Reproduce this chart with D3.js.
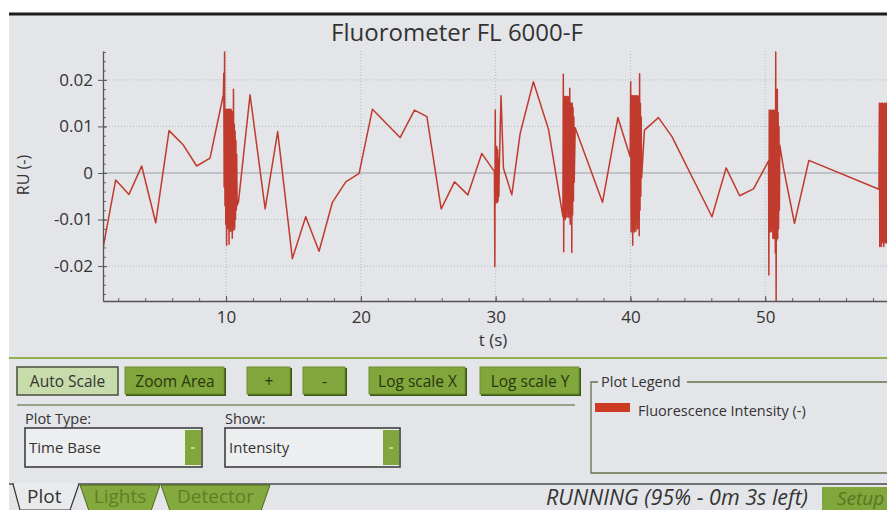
<!DOCTYPE html>
<html><head><meta charset="utf-8">
<script src="https://cdn.jsdelivr.net/npm/d3@7"></script>
<style>body{margin:0;background:#fff;} svg{display:block;font-family:"Open Sans",sans-serif;}</style>
</head><body><svg id="c" width="887" height="510"></svg>
<script>
const chartTitle = "Fluorometer FL 6000-F";
const xLabel = "t (s)";
const yLabel = "RU (-)";
const xTicks = [10, 20, 30, 40, 50];
const yTicks = [-0.02, -0.01, 0, 0.01, 0.02];
const yTickLabels = ["-0.02", "-0.01", "0", "0.01", "0.02"];
const seriesName = "Fluorescence Intensity (-)";

// time (s)
const timeS = [
 0.85,1.81,2.80,3.74,4.78,5.77,6.83,7.82,8.81,9.80,
 9.83,9.86,9.89,9.92,9.95,9.98,10.01,10.04,10.07,10.10,10.13,10.16,10.19,10.22,10.25,10.28,10.31,10.34,10.37,10.40,10.43,10.46,10.49,10.52,10.55,10.58,10.61,10.64,10.67,10.70,10.73,10.76,10.79,10.82,10.92,
 11.78,12.90,13.83,14.92,15.91,16.90,17.89,18.88,19.87,20.86,22.91,23.98,24.90,25.96,26.95,27.94,28.97,29.91,
 29.94,29.97,30.00,30.03,30.06,30.09,30.12,30.15,30.18,30.21,30.24,30.27,30.40,
 30.58,31.20,31.82,32.80,33.92,34.99,
 35.02,35.05,35.08,35.11,35.14,35.17,35.20,35.23,35.26,35.29,35.32,35.35,35.38,35.41,35.44,35.47,35.50,35.53,35.56,35.59,35.62,35.65,35.68,35.71,35.74,35.77,35.80,35.83,35.90,
 37.93,39.07,39.98,
 40.02,40.05,40.08,40.11,40.14,40.17,40.20,40.23,40.26,40.29,40.32,40.35,40.38,40.41,40.44,40.47,40.50,40.53,40.56,40.59,40.62,40.65,40.68,40.71,40.74,40.77,40.80,40.83,41.04,
 42.08,43.08,46.05,47.10,48.10,49.13,50.25,
 50.27,50.30,50.33,50.36,50.39,50.42,50.45,50.48,50.51,50.54,50.57,50.60,50.63,50.66,50.69,50.72,50.75,50.78,50.81,50.84,50.87,50.90,50.93,50.96,50.99,51.02,51.05,51.08,51.36,
 52.17,53.24,58.44,
 58.47,58.50,58.53,58.56,58.59,58.62,58.65,58.68,58.71,58.74,58.77,58.80,58.83,58.86,58.89,58.92,58.95,58.98,59.01,59.04,59.07,59.10
];
// relative units
const ru = [
 -0.0165,-0.0015,-0.0046,0.0015,-0.0107,0.0091,0.0060,0.0015,0.0032,0.0168,
 0.0214,-0.0030,0.0260,-0.0070,0.0125,-0.0110,0.0137,-0.0155,0.0137,-0.0080,0.0135,-0.0120,0.0137,-0.0153,0.0137,-0.0090,0.0136,-0.0125,0.0137,-0.0100,0.0132,-0.0140,0.0120,-0.0110,0.0180,-0.0123,0.0105,-0.0120,0.0090,-0.0100,0.0070,-0.0080,0.0040,-0.0070,-0.0062,
 0.0168,-0.0077,0.0089,-0.0184,-0.0094,-0.0168,-0.0063,-0.0019,-0.0001,0.0137,0.0076,0.0135,0.0121,-0.0077,-0.0019,-0.0047,0.0042,0.0003,
 -0.0201,0.0135,-0.0064,0.0058,-0.0062,0.0056,-0.0064,0.0050,-0.0060,0.0030,-0.0050,0.0010,0.0166,
 0.0010,-0.0047,0.0085,0.0196,0.0094,-0.0094,
 0.0212,-0.0169,0.0164,-0.0094,0.0164,-0.0100,0.0164,-0.0090,0.0160,-0.0095,0.0164,-0.0080,0.0162,-0.0095,0.0164,-0.0085,0.0182,-0.0110,0.0150,-0.0100,0.0150,-0.0171,0.0150,-0.0090,0.0140,-0.0060,0.0120,-0.0020,0.0097,
 -0.0063,0.0119,0.0035,
 0.0196,-0.0127,0.0166,-0.0110,0.0166,-0.0155,0.0166,-0.0120,0.0166,-0.0127,0.0164,-0.0110,0.0166,-0.0125,0.0166,-0.0100,0.0160,-0.0120,0.0166,-0.0090,0.0160,-0.0135,0.0213,-0.0080,0.0150,-0.0050,0.0120,-0.0010,0.0092,
 0.0119,0.0078,-0.0094,0.0011,-0.0049,-0.0034,0.0026,
 -0.0219,0.0135,-0.0126,0.0135,-0.0126,0.0135,-0.0120,0.0133,-0.0126,0.0135,-0.0140,0.0135,-0.0140,0.0130,-0.0140,0.0135,-0.0172,0.0260,-0.0285,0.0178,-0.0144,0.0180,-0.0140,0.0130,-0.0120,0.0100,-0.0080,0.0060,0.0010,
 -0.0108,0.0027,-0.0035,
 0.0150,-0.0158,0.0150,-0.0144,0.0148,-0.0158,0.0150,-0.0144,0.0150,-0.0150,0.0145,-0.0158,0.0150,-0.0144,0.0150,-0.0150,0.0148,-0.0150,0.0150,-0.0144,0.0150,-0.0150
];

const buttonLabels = ["Auto Scale", "Zoom Area", "+", "-", "Log scale X", "Log scale Y"];
const tabLabels = ["Plot", "Lights", "Detector"];
const plotTypeLabel = "Plot Type:", plotTypeValue = "Time Base";
const showLabel = "Show:", showValue = "Intensity";
const legendTitle = "Plot Legend";
const statusText = "RUNNING (95% - 0m 3s left)";
const setupLabel = "Setup";

const W = 887, H = 510;
const svg = d3.select("#c");
const GREEN = "#80a63c", TXT = "#333";

svg.append("rect").attr("width", W).attr("height", H).attr("fill", "#fff");
svg.append("rect").attr("x", 9).attr("y", 14).attr("width", W - 9).attr("height", H - 14).attr("fill", "#e3e5e9");
svg.append("line").attr("x1", 9).attr("x2", W).attr("y1", 14).attr("y2", 14).attr("stroke", "#1d1d1d").attr("stroke-width", 3);

// scales
const x = d3.scaleLinear().domain([0.87, 60]).range([103, 900]);
const y = d3.scaleLinear().domain([-0.0275, 0.0262]).range([301, 51]);
const px0 = 103, px1 = W, py0 = y(0.0262), py1 = y(-0.0275);

// grid
const grid = svg.append("g");
grid.selectAll(".gx").data(xTicks).join("line")
  .attr("x1", d => x(d)).attr("x2", d => x(d)).attr("y1", py0).attr("y2", py1)
  .attr("stroke", "#b4bac2").attr("stroke-dasharray", "1,2");
grid.selectAll(".gy").data(yTicks).join("line")
  .attr("x1", px0).attr("x2", px1).attr("y1", d => y(d)).attr("y2", d => y(d))
  .attr("stroke", d => d === 0 ? "#9aa1a9" : "#b4bac2")
  .attr("stroke-dasharray", d => d === 0 ? null : "1,2");

// title
svg.append("text").attr("x", 457).attr("y", 41).attr("text-anchor", "middle")
  .attr("font-size", 24).attr("fill", TXT).text(chartTitle);

// series
svg.append("clipPath").attr("id", "pc").append("rect")
  .attr("x", px0).attr("y", py0).attr("width", px1 - px0).attr("height", py1 - py0);
const pts = timeS.map((t, i) => ({ t, v: ru[i] }));
svg.append("path").datum(pts).attr("clip-path", "url(#pc)")
  .attr("fill", "none").attr("stroke", "#c03a2e").attr("stroke-width", 1.5)
  .attr("stroke-linejoin", "round")
  .attr("d", d3.line().x(d => x(d.t)).y(d => y(d.v)));

// axes
function styleAxis(g) {
  g.select(".domain").attr("stroke", "#555").attr("stroke-width", 1.3);
  g.selectAll(".tick line").attr("stroke", "#555");
  g.selectAll("text").attr("font-size", 17).attr("fill", TXT).attr("font-family", "Open Sans, sans-serif");
}
const minorY = d3.range(-26, 27, 2).map(v => v / 1000);
svg.append("g").attr("transform", `translate(${px0},0)`)
  .call(d3.axisRight(y).tickValues(minorY).tickSize(3).tickFormat("")).call(g => { g.select(".domain").remove(); g.selectAll("line").attr("stroke", "#666"); });
svg.append("g").attr("transform", `translate(${px0},0)`)
  .call(d3.axisRight(y).tickValues(yTicks).tickSize(4).tickFormat("")).call(g => { g.select(".domain").remove(); g.selectAll("line").attr("stroke", "#555"); });
svg.append("g").attr("transform", `translate(${px0},0)`)
  .call(d3.axisLeft(y).tickValues(yTicks).tickFormat((d, i) => yTickLabels[i]).tickSize(5).tickSizeOuter(0).tickPadding(5))
  .call(styleAxis);

const minorX = d3.range(2, 60, 2);
svg.append("g").attr("transform", `translate(0,${py1})`)
  .call(d3.axisBottom(x).tickValues(minorX).tickSize(-3).tickFormat("")).call(g => { g.select(".domain").remove(); g.selectAll("line").attr("stroke", "#666"); });
svg.append("g").attr("transform", `translate(0,${py1})`)
  .call(d3.axisBottom(x).tickValues(xTicks).tickSize(-5).tickSizeOuter(0).tickPadding(10))
  .call(styleAxis);

svg.append("text").attr("x", 493).attr("y", 346).attr("text-anchor", "middle")
  .attr("font-size", 17).attr("fill", TXT).text(xLabel);
svg.append("text").attr("transform", "translate(29,175) rotate(-90)").attr("text-anchor", "middle")
  .attr("font-size", 16).attr("fill", TXT).text(yLabel);

// ---- control panel ----
svg.append("line").attr("x1", 9).attr("x2", W).attr("y1", 358).attr("y2", 358).attr("stroke", "#93b04e").attr("stroke-width", 2);

const btnLayout = [[17, 118], [125, 225], [247, 291], [303, 346], [369, 466], [480, 580]];
buttonLabels.forEach((lab, i) => {
  const [a, b] = btnLayout[i];
  const g = svg.append("g");
  if (i === 0) {
    g.append("rect").attr("x", a).attr("y", 367).attr("width", b - a).attr("height", 28)
      .attr("fill", "#c8dbaa").attr("stroke", "#4f5847").attr("stroke-width", 1.6);
  } else {
    g.append("rect").attr("x", a + 1).attr("y", 368).attr("width", b - a).attr("height", 28).attr("fill", "#3d5516");
    g.append("rect").attr("x", a).attr("y", 367).attr("width", b - a - 1).attr("height", 27)
      .attr("fill", GREEN).attr("stroke", "#6f9130").attr("stroke-width", 1);
  }
  g.append("text").attr("x", (a + b) / 2).attr("y", 387).attr("text-anchor", "middle")
    .attr("font-size", 15.5).attr("fill", i === 0 ? "#333" : "#2a360f").text(lab);
});
svg.append("line").attr("x1", 17).attr("x2", 575).attr("y1", 405).attr("y2", 405).attr("stroke", "#7f8a68").attr("stroke-width", 1.4);

// dropdowns
[[plotTypeLabel, plotTypeValue, 25, 202], [showLabel, showValue, 225, 400]].forEach(([lab, val, a, b]) => {
  svg.append("text").attr("x", a).attr("y", 424).attr("font-size", 14.5).attr("fill", TXT).text(lab);
  svg.append("rect").attr("x", a).attr("y", 428).attr("width", b - a).attr("height", 39)
    .attr("fill", "#eceef0").attr("stroke", "#3f3f3f").attr("stroke-width", 1.6);
  svg.append("rect").attr("x", b - 17).attr("y", 430).attr("width", 16).attr("height", 35).attr("fill", GREEN);
  svg.append("line").attr("x1", b - 11).attr("x2", b - 7).attr("y1", 448).attr("y2", 448).attr("stroke", "#d8e8b8").attr("stroke-width", 1.5);
  svg.append("text").attr("x", a + 4).attr("y", 453).attr("font-size", 15).attr("fill", TXT).text(val);
});

// legend group box
const lg = svg.append("g");
lg.append("path").attr("d", "M598,382 L591,382 L591,473 L887,473 M687,382 L887,382")
  .attr("fill", "none").attr("stroke", "#66714a").attr("stroke-width", 1.3);
lg.append("text").attr("x", 601).attr("y", 387).attr("font-size", 14.5).attr("fill", TXT).text(legendTitle);
lg.append("rect").attr("x", 595).attr("y", 403).attr("width", 35).attr("height", 9).attr("fill", "#cc3a22");
lg.append("text").attr("x", 638).attr("y", 416).attr("font-size", 14.5).attr("fill", TXT).text(seriesName);

// tabs
svg.append("line").attr("x1", 9).attr("x2", W).attr("y1", 484).attr("y2", 484).attr("stroke", "#4a4a4a").attr("stroke-width", 1.4);
svg.append("path").attr("d", "M13,484 L20,510 L70,510 L79,484").attr("fill", "#e8eaec").attr("stroke", "#333").attr("stroke-width", 1.2);
svg.append("line").attr("x1", 14).attr("x2", 78).attr("y1", 484).attr("y2", 484).attr("stroke", "#e8eaec").attr("stroke-width", 2);
const tabShapes = [null, [80, 160], [161, 270]];
tabLabels.forEach((lab, i) => {
  if (i === 0) {
    svg.append("text").attr("x", 27).attr("y", 503).attr("font-size", 19).attr("fill", TXT).text(lab);
    return;
  }
  const [a, b] = tabShapes[i];
  svg.append("path").attr("d", `M${a},485 L${a + 9},511 L${b - 9},511 L${b},485 Z`)
    .attr("fill", "#84a93f").attr("stroke", "#4f6b20").attr("stroke-width", 1);
  svg.append("text").attr("x", (a + b) / 2).attr("y", 503).attr("text-anchor", "middle")
    .attr("font-size", 19).attr("fill", "#5f7f24").text(lab);
});

svg.append("text").attr("x", 808).attr("y", 505).attr("text-anchor", "end")
  .attr("font-size", 21.5).attr("font-style", "italic").attr("fill", TXT).text(statusText);
svg.append("rect").attr("x", 822).attr("y", 487).attr("width", 70).attr("height", 25).attr("fill", GREEN);
svg.append("text").attr("x", 837).attr("y", 505).attr("font-size", 19).attr("font-style", "italic").attr("fill", "#587620").text(setupLabel);
</script></body></html>
